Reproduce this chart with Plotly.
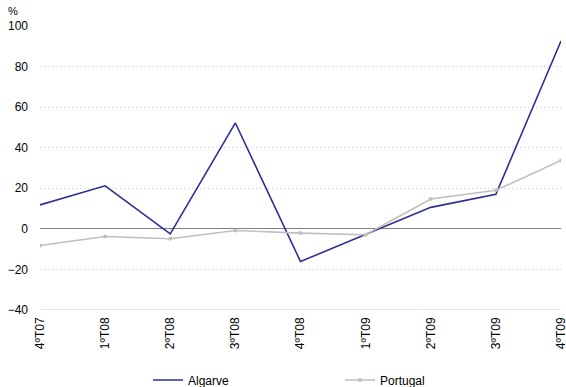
import plotly.graph_objects as go

categories = ["4ºT07", "1ºT08", "2ºT08", "3ºT08", "4ºT08", "1ºT09", "2ºT09", "3ºT09", "4ºT09"]
algarve = [11.8, 21.2, -2.5, 52.2, -16.1, -2.9, 10.6, 17.0, 92.6]
portugal = [-8.2, -3.8, -4.9, -0.8, -2.1, -2.9, 14.7, 19.0, 33.7]
y_ticks = [-40, -20, 0, 20, 40, 60, 80, 100]

fig = go.Figure()
fig.add_trace(go.Scatter(
    x=categories, y=algarve, name="Algarve", mode="lines",
    line=dict(color="#2b2f93", width=1.6),
))
fig.add_trace(go.Scatter(
    x=categories, y=portugal, name="Portugal", mode="lines+markers",
    line=dict(color="#bfbfbf", width=1.6),
    marker=dict(color="#bfbfbf", size=4),
))

fig.update_layout(
    width=566, height=387,
    margin=dict(l=40, r=5, t=26, b=77, autoexpand=False),
    paper_bgcolor="white", plot_bgcolor="white",
    font=dict(family="Liberation Sans, Arial, sans-serif", size=12, color="#000000"),
    showlegend=True,
    legend=dict(
        orientation="h", xref="container", x=0.2615, xanchor="left",
        yref="container", y=0.018, yanchor="middle",
        font=dict(size=12), entrywidth=147, entrywidthmode="pixels",
        itemwidth=30,
    ),
    xaxis=dict(
        type="category", range=[0, len(categories) - 1],
        tickangle=-90, showgrid=False, ticks="", showline=False,
        zeroline=False, tickfont=dict(size=12), automargin=False,
        ticklabelstandoff=4,
    ),
    yaxis=dict(
        range=[-40, 100], tickvals=y_ticks, showgrid=True,
        gridcolor="#cfcfcf", griddash="1px,3px", gridwidth=1,
        zeroline=True, zerolinecolor="#808080", zerolinewidth=1,
        ticks="", showline=False, tickfont=dict(size=12), automargin=False,
        ticklabelstandoff=11,
    ),
    annotations=[dict(
        text="%", x=0, xref="paper", xanchor="right", xshift=-20,
        y=1, yref="paper", yanchor="bottom", yshift=7,
        showarrow=False, font=dict(size=11),
    )],
    shapes=[dict(
        type="line", xref="paper", yref="y", x0=0, x1=1, y0=-40, y1=-40,
        line=dict(color="#c8c8c8", width=1), layer="below",
    )],
)

fig.write_html("out.html")
